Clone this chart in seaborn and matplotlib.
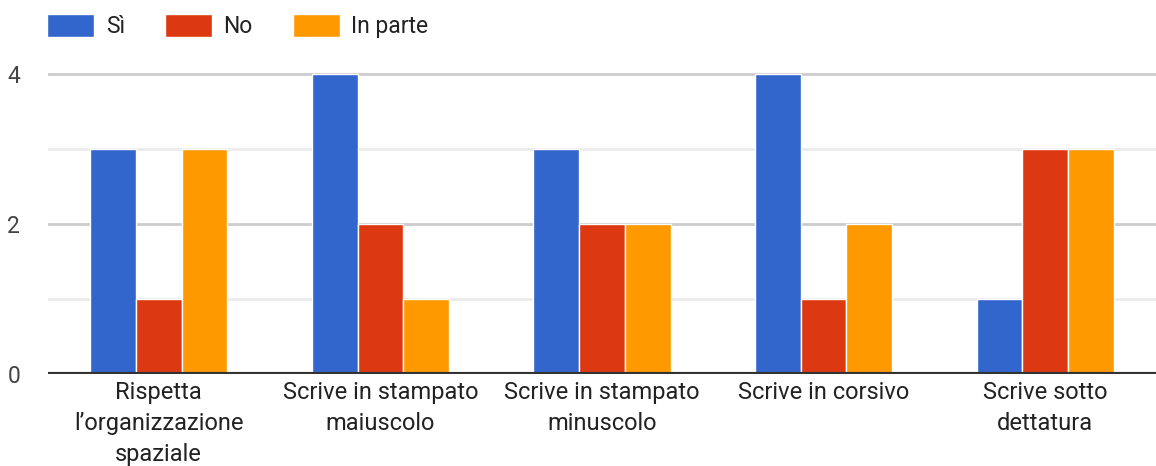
import pandas as pd
import numpy as np
import matplotlib.pyplot as plt
import seaborn as sns

sns.set_theme(style='white')
plt.rcParams['font.family'] = ['Roboto', 'DejaVu Sans']

categories = ['Rispetta\nl’organizzazione\nspaziale', 'Scrive in stampato\nmaiuscolo',
              'Scrive in stampato\nminuscolo', 'Scrive in corsivo', 'Scrive sotto\ndettatura']
si = [3, 4, 3, 4, 1]
no = [1, 2, 2, 1, 3]
in_parte = [3, 1, 2, 2, 3]
series = ['Sì', 'No', 'In parte']
colors = ['#3366cc', '#dc3912', '#ff9900']

df = pd.DataFrame({
    'cat': categories * 3,
    'risposta': [s for s in series for _ in categories],
    'n': si + no + in_parte,
})

fig = plt.figure(figsize=(11.56, 4.66), dpi=100)
ax = fig.add_axes([48 / 1156, 92 / 466, 1 - 48 / 1156, 376 / 466])

# grid first so bars sit on top
for y, c in [(1, '#ebebeb'), (3, '#ebebeb'), (2, '#cccccc'), (4, '#cccccc')]:
    ax.axhline(y, color=c, lw=2, zorder=0)
ax.axhline(5, color='#ebebeb', lw=2, zorder=0, clip_on=False)

sns.barplot(data=df, x='cat', y='n', hue='risposta', hue_order=series,
            palette=colors, width=0.62, edgecolor='white', linewidth=1,
            saturation=1, ax=ax, zorder=2)

ax.axhline(0, color='#333333', lw=3, zorder=3)
ax.set_ylim(0, 5.01)
ax.set_xlim(-0.5, 4.5)
ax.set_yticks([0, 2, 4])
ax.tick_params(axis='y', length=0, pad=20, labelsize=16.5, labelcolor='#444444')
ax.tick_params(axis='x', length=0, pad=5, labelsize=17, labelcolor='#222222')
for t in ax.get_xticklabels():
    t.set_linespacing(1.45)
ax.set_xlabel('')
ax.set_ylabel('')
for s in ax.spines.values():
    s.set_visible(False)

ax.legend(loc='upper left', bbox_to_anchor=(-0.015, 1.0), ncol=3, frameon=False,
          fontsize=16.5, handlelength=2.05, handleheight=1.15, handletextpad=0.5,
          columnspacing=1.75, borderaxespad=0.3, labelcolor='#222222')

fig.savefig('out.png', dpi=100)
